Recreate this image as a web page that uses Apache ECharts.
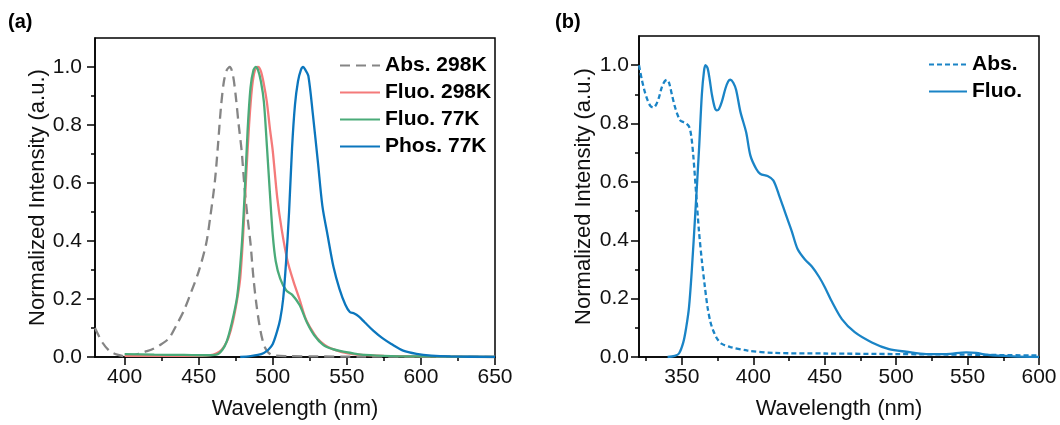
<!DOCTYPE html>
<html><head><meta charset="utf-8">
<script src="https://cdn.jsdelivr.net/npm/echarts@6/dist/echarts.min.js"></script>
<style>html,body{margin:0;padding:0;background:#fff}#c{width:1060px;height:425px}</style>
</head><body><div id="c"></div>
<script>
// Panel (a)
const absA_x = [380,385,390,395,400,405,410,415,420,425,430,435,440,445,450,455,458,461,463,465,467,469,471,473,475,477,479,481,483,485,487,489,491,493,495,497,500,510,530,560,600,650];
const absA_y = [0.10,0.05,0.02,0.008,0.003,0.005,0.012,0.02,0.03,0.045,0.065,0.11,0.16,0.225,0.295,0.39,0.49,0.61,0.73,0.86,0.95,0.99,1.0,0.975,0.90,0.80,0.71,0.58,0.48,0.39,0.27,0.18,0.11,0.06,0.03,0.015,0.006,0.003,0.002,0.001,0.001,0.0];
const fl298_x = [400,420,440,455,460,464,467,470,473,476,478,480,482,484,486,488,490,492,494,496,498,500,503,506,510,514,518,522,526,530,535,540,550,560,575,600,650];
const fl298_y = [0.004,0.004,0.004,0.005,0.008,0.018,0.035,0.065,0.12,0.20,0.27,0.42,0.62,0.80,0.93,0.99,1.0,0.985,0.94,0.88,0.79,0.71,0.55,0.44,0.33,0.26,0.20,0.135,0.095,0.065,0.042,0.028,0.013,0.007,0.004,0.002,0.0];
const fl77_x = [400,420,440,455,462,466,469,472,476,479,481,483,485,487,488.5,490,492,494,496,498,500,502,505,509,513,518,523,528,534,540,546,555,562,580,600,650];
const fl77_y = [0.01,0.008,0.007,0.006,0.008,0.025,0.055,0.11,0.21,0.38,0.56,0.78,0.93,0.99,1.0,0.99,0.95,0.88,0.73,0.57,0.42,0.33,0.27,0.23,0.215,0.18,0.12,0.075,0.042,0.028,0.02,0.012,0.007,0.003,0.002,0.0];
const ph77_x = [478,485,490,494,497,500,503,505,507,509,511,513,515,517,519,520.5,522,524,527,530.5,533.5,537,541,545,549,552,555,558,562,568,574,580,588,597,607,620,650];
const ph77_y = [0.0,0.003,0.007,0.014,0.025,0.045,0.09,0.13,0.20,0.33,0.50,0.72,0.87,0.95,0.99,1.0,0.99,0.97,0.84,0.67,0.52,0.42,0.31,0.235,0.18,0.155,0.15,0.14,0.12,0.09,0.065,0.045,0.022,0.011,0.005,0.002,0.0];
// Panel (b)
const absB_x = [320,322,324,326,328,330,332,334,336,338,339.5,341,343,345,347,349,351,353,355,356.5,358,360,362,364,366,368,370,372,375,378,384,396,415,450,500,550,600];
const absB_y = [1.0,0.95,0.91,0.88,0.86,0.855,0.865,0.89,0.925,0.945,0.95,0.94,0.90,0.86,0.83,0.81,0.805,0.80,0.79,0.76,0.69,0.56,0.43,0.33,0.245,0.17,0.12,0.09,0.06,0.045,0.034,0.022,0.014,0.012,0.01,0.008,0.005];
const fluB_x = [340,345,348,351,353,355,357,359.5,362,364,365.5,366.5,368,369.5,371,373,374.5,376,378,380.5,382.5,384,386,388,391,395,398,402,405,410,414,418,423,427,431,436,441,446,450,455,462,471,483,495,507,521,535,549,556,564,582,600];
const fluB_y = [0.0,0.004,0.012,0.05,0.10,0.17,0.30,0.50,0.71,0.90,0.98,1.0,0.99,0.95,0.90,0.855,0.845,0.85,0.875,0.92,0.945,0.95,0.94,0.915,0.84,0.77,0.69,0.645,0.627,0.62,0.605,0.555,0.485,0.43,0.37,0.335,0.31,0.275,0.24,0.19,0.13,0.085,0.05,0.027,0.018,0.01,0.01,0.016,0.014,0.007,0.002,0.0];
// Ticks
const yMajor = [0,0.2,0.4,0.6,0.8,1.0];
const yMinor = [0.1,0.3,0.5,0.7,0.9];
const xMajorA = [400,450,500,550,600,650];
const xMinorA = [425,475,525,575,625];
const xMajorB = [350,400,450,500,550,600];
const xMinorB = [325,375,425,475,525,575];

const F = 'Liberation Sans, Arial, sans-serif';
const zip = (xs, ys) => xs.map((x, i) => [x, ys[i]]);
const grids = [
  {left:95, top:38, width:400, height:321, show:true, borderColor:'#000', borderWidth:1.5, backgroundColor:'transparent'},
  {left:639, top:36, width:400, height:322, show:true, borderColor:'#000', borderWidth:1.5, backgroundColor:'transparent'}
];
function xAxes(g, min, max, major, minor) {
  return [
    {type:'value', gridIndex:g, min, max, position:'bottom',
     name:'Wavelength (nm)', nameLocation:'middle', nameGap:41,
     nameTextStyle:{fontFamily:F, fontSize:22, color:'#111'},
     axisLine:{show:true, lineStyle:{color:'#000', width:1.5}},
     axisTick:{show:true, customValues:major, length:8, lineStyle:{color:'#000', width:1.5}},
     axisLabel:{show:true, customValues:major, margin:10, fontFamily:F, fontSize:21, color:'#111'},
     splitLine:{show:false}},
    {type:'value', gridIndex:g, min, max, position:'bottom',
     axisLine:{show:false},
     axisTick:{show:true, customValues:minor, length:4, lineStyle:{color:'#000', width:1.5}},
     axisLabel:{show:false}, splitLine:{show:false}}
  ];
}
function yAxes(g, nameGap, margin) {
  return [
    {type:'value', gridIndex:g, min:0, max:1.1, position:'left',
     name:'Normalized Intensity (a.u.)', nameLocation:'middle', nameGap,
     nameTextStyle:{fontFamily:F, fontSize:22, color:'#111'},
     axisLine:{show:true, lineStyle:{color:'#000', width:1.5}},
     axisTick:{show:true, customValues:yMajor, length:8, lineStyle:{color:'#000', width:1.5}},
     axisLabel:{show:true, customValues:yMajor, margin, fontFamily:F, fontSize:21, color:'#111', formatter:v=>Number(v).toFixed(1)},
     splitLine:{show:false}},
    {type:'value', gridIndex:g, min:0, max:1.1, position:'left',
     axisLine:{show:false},
     axisTick:{show:true, customValues:yMinor, length:4, lineStyle:{color:'#000', width:1.5}},
     axisLabel:{show:false}, splitLine:{show:false}}
  ];
}
function line(name, xi, yi, xs, ys, color, dash) {
  return {type:'line', name, xAxisIndex:xi, yAxisIndex:yi, data:zip(xs, ys),
    showSymbol:false, symbol:'none', smooth:0.3, clip:true,
    lineStyle:{color, width:2.3, type:dash || 'solid'}, itemStyle:{color}, z:3};
}
const legendText = {fontFamily:F, fontSize:21, fontWeight:'bold', color:'#000', lineHeight:21};
const option = {
  animation:false,
  backgroundColor:'#fff',
  grid: grids,
  xAxis: [...xAxes(0,380,650,xMajorA,xMinorA), ...xAxes(1,320,600,xMajorB,xMinorB)],
  yAxis: [...yAxes(0,42,13), ...yAxes(1,44,10)],
  legend: [
    {data:['Abs. 298K','Fluo. 298K','Fluo. 77K','Phos. 77K'], orient:'vertical', left:339, top:55,
     itemWidth:40, itemHeight:14, itemGap:6, textStyle:legendText, padding:0, itemStyle:{opacity:0}},
    {data:['Abs.','Fluo.'], orient:'vertical', left:928, top:54,
     itemWidth:38, itemHeight:14, itemGap:6, textStyle:legendText, padding:0, itemStyle:{opacity:0}}
  ],
  graphic: [
    {type:'text', left:8, top:12, style:{text:'(a)', font:'bold 20px Liberation Sans, Arial', fill:'#000'}},
    {type:'text', left:555, top:12, style:{text:'(b)', font:'bold 20px Liberation Sans, Arial', fill:'#000'}}
  ],
  series: [
    line('Abs. 298K', 0, 0, absA_x, absA_y, '#858585', [10,6]),
    line('Fluo. 298K', 0, 0, fl298_x, fl298_y, '#f47a7a'),
    line('Fluo. 77K', 0, 0, fl77_x, fl77_y, '#4aab79'),
    line('Phos. 77K', 0, 0, ph77_x, ph77_y, '#0b76bd'),
    line('Abs.', 2, 2, absB_x, absB_y, '#1a84c6', [5,3]),
    line('Fluo.', 2, 2, fluB_x, fluB_y, '#1a84c6')
  ]
};
const chart = echarts.init(document.getElementById('c'), null, {renderer:'canvas'});
chart.setOption(option);
</script></body></html>
